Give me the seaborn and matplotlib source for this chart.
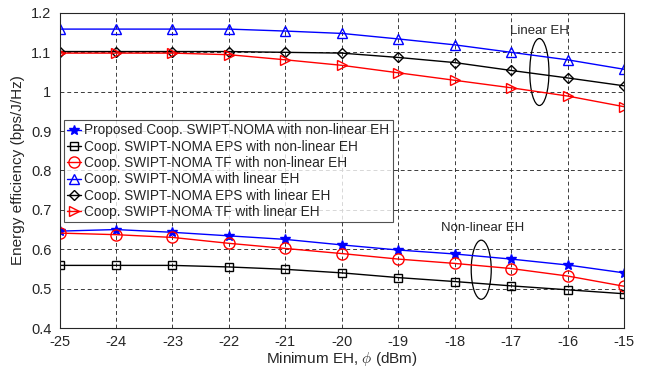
import numpy as np
import pandas as pd
import matplotlib
matplotlib.use("Agg")
import matplotlib.pyplot as plt
import seaborn as sns
from matplotlib.patches import Ellipse

phi = [-25, -24, -23, -22, -21, -20, -19, -18, -17, -16, -15]

prop_nl = [0.646, 0.650, 0.643, 0.634, 0.625, 0.611, 0.598, 0.588, 0.575, 0.560, 0.540]
eps_nl = [0.559, 0.559, 0.559, 0.555, 0.549, 0.540, 0.528, 0.518, 0.507, 0.497, 0.487]
tf_nl = [0.641, 0.637, 0.630, 0.615, 0.602, 0.589, 0.575, 0.564, 0.551, 0.532, 0.506]
prop_l = [1.159, 1.159, 1.159, 1.159, 1.154, 1.148, 1.134, 1.119, 1.100, 1.081, 1.057]
eps_l = [1.102, 1.102, 1.102, 1.102, 1.100, 1.098, 1.087, 1.074, 1.054, 1.035, 1.015]
tf_l = [1.098, 1.098, 1.098, 1.094, 1.081, 1.067, 1.048, 1.029, 1.010, 0.989, 0.962]

labels = [
    "Proposed Coop. SWIPT-NOMA with non-linear EH",
    "Coop. SWIPT-NOMA EPS with non-linear EH",
    "Coop. SWIPT-NOMA TF with non-linear EH",
    "Coop. SWIPT-NOMA with linear EH",
    "Coop. SWIPT-NOMA EPS with linear EH",
    "Coop. SWIPT-NOMA TF with linear EH",
]
series = [prop_nl, eps_nl, tf_nl, prop_l, eps_l, tf_l]
colors = ["#0000ff", "#000000", "#ff0000", "#0000ff", "#000000", "#ff0000"]
markers = ["*", "s", "o", "^", "D", ">"]
msizes = [7, 6, 8, 7, 5, 7]

rows = []
for lab, vals in zip(labels, series):
    for x, v in zip(phi, vals):
        rows.append({"phi": x, "ee": v, "scheme": lab})
df = pd.DataFrame(rows)

sns.set_style("white")
plt.rcParams["font.family"] = ["Liberation Sans", "DejaVu Sans"]
plt.rcParams["mathtext.fontset"] = "cm"

fig = plt.figure(figsize=(6.48, 3.70), dpi=100)
ax = fig.add_axes([0.092, 0.1135, 0.871, 0.8515])

for lab, c, m, ms in zip(labels, colors, markers, msizes):
    sub = df[df["scheme"] == lab]
    fill = c if m == "*" else "none"
    sns.lineplot(data=sub, x="phi", y="ee", ax=ax, color=c, marker=m,
                 markersize=ms, markerfacecolor=fill, markeredgecolor=c,
                 markeredgewidth=1.0, linewidth=1.0, label=lab)

ax.set_xlim(-25, -15)
ax.set_ylim(0.4, 1.2)
ax.set_xticks(phi)
ax.set_xticklabels([str(p) for p in phi])
yt = [0.4, 0.5, 0.6, 0.7, 0.8, 0.9, 1.0, 1.1, 1.2]
ax.set_yticks(yt)
ax.set_yticklabels(["0.4", "0.5", "0.6", "0.7", "0.8", "0.9", "1", "1.1", "1.2"])
ax.grid(True, color="#262626", linestyle=(0, (4, 3)), linewidth=0.7, alpha=0.9)
for s in ax.spines.values():
    s.set_color("#262626")
    s.set_linewidth(0.8)
ax.tick_params(axis="both", labelsize=10.5, colors="#262626", direction="in", length=3)
ax.tick_params(axis="x", pad=5)
ax.tick_params(axis="y", pad=6)
ax.set_xlabel(r"Minimum EH, $\phi$ (dBm)", fontsize=11, color="#262626", labelpad=1)
ax.set_ylabel("Energy efficiency (bps/J/Hz)", fontsize=11, color="#262626", labelpad=4)

leg = ax.legend(loc="upper left", bbox_to_anchor=(0.007, 0.66), fontsize=9.8,
                frameon=True, fancybox=False, edgecolor="#262626",
                borderpad=0.25, labelspacing=0.17, handlelength=1.0,
                handletextpad=0.25, borderaxespad=0.0)
leg.get_frame().set_linewidth(0.8)

ax.add_patch(Ellipse((-16.5, 1.05), 0.34, 0.17, fill=False, edgecolor="black", linewidth=0.9))
ax.text(-16.5, 1.154, "Linear EH", ha="center", va="center", fontsize=9.5, color="#262626")
ax.add_patch(Ellipse((-17.53, 0.548), 0.355, 0.15, fill=False, edgecolor="black", linewidth=0.9))
ax.text(-17.5, 0.653, "Non-linear EH", ha="center", va="center", fontsize=9.5, color="#262626")

fig.savefig("out.png", dpi=100)
